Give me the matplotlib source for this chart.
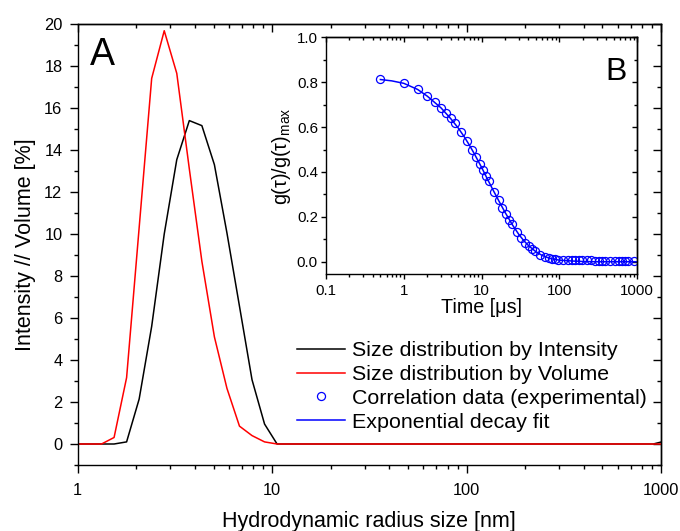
import matplotlib
matplotlib.use('Agg')
import matplotlib.pyplot as plt
import matplotlib.ticker as mt
import numpy as np

plt.rcParams['font.family'] = ['Liberation Sans', 'DejaVu Sans']
plt.rcParams['mathtext.default'] = 'regular'

# size distributions (hydrodynamic radius in nm, percent)
radius = [0.9, 1.326, 1.538, 1.784, 2.070, 2.401, 2.786, 3.232, 3.750, 4.351,
          5.047, 5.855, 6.792, 7.880, 9.141, 10.60, 913.0, 1059.0]
intensity = [0, 0, 0, 0.1, 2.14, 5.6, 10.0, 13.54, 15.40, 15.16,
             13.3, 10.05, 6.56, 3.06, 0.95, 0, 0, 0.15]
volume = [0, 0, 0.31, 3.16, 10.3, 17.41, 19.68, 17.65, 13.1, 8.7,
          5.1, 2.65, 0.85, 0.40, 0.1, 0, 0, 0]

# correlation function (time in us)
t_data = [0.5, 1, 1.5, 2, 2.5, 3, 3.5, 4, 4.5, 5.5, 6.5, 7.5, 8.5, 9.5, 10.5,
          11.5, 12.5, 14.5, 16.5, 18.5, 20.5, 22.5, 24.5, 28.5, 32.5, 36.5,
          40.5, 44.5, 48.5, 56.5, 64.5, 72.5, 80.5, 88.5, 96.5, 112.5, 128.5,
          144.5, 160.5, 176.5, 192.5, 224.5, 256.5, 288.5, 320.5, 352.5,
          384.5, 448.5, 512.5, 576.5, 640.5, 704.5, 768.5, 896.5]
g_data = [0.814, 0.798, 0.768, 0.738, 0.712, 0.687, 0.662, 0.640, 0.620,
          0.578, 0.539, 0.500, 0.467, 0.437, 0.408, 0.382, 0.358, 0.312,
          0.274, 0.240, 0.214, 0.188, 0.166, 0.133, 0.104, 0.084, 0.068,
          0.055, 0.046, 0.032, 0.023, 0.017, 0.014, 0.012, 0.010, 0.009,
          0.008, 0.008, 0.007, 0.007, 0.006, 0.006, 0.006, 0.005, 0.005,
          0.005, 0.004, 0.004, 0.004, 0.004, 0.003, 0.003, 0.003, 0.003]
t_fit = [0.5, 0.7, 1, 1.5, 2, 3, 4, 5, 6, 7, 8, 10, 12, 14, 17, 20, 25, 30,
         35, 40, 50, 60, 70, 80, 100, 150, 200, 300, 500, 1000]
g_fit = [0.812, 0.806, 0.795, 0.768, 0.738, 0.686, 0.638, 0.596, 0.556,
         0.518, 0.483, 0.420, 0.365, 0.320, 0.265, 0.220, 0.163, 0.122,
         0.093, 0.072, 0.044, 0.028, 0.019, 0.013, 0.007, 0.003, 0.001,
         0.0, 0.0, 0.0]


def style_axes(ax, major, minor, lw=1.0):
    for s in ax.spines.values():
        s.set_linewidth(lw)
    ax.tick_params(which='both', direction='out', top=False, right=False, width=lw)
    ax.tick_params(which='major', length=major)
    ax.tick_params(which='minor', length=minor)
    # mirrored inner ticks on top / right
    sx = ax.secondary_xaxis('top', functions=(lambda v: v, lambda v: v))
    sy = ax.secondary_yaxis('right', functions=(lambda v: v, lambda v: v))
    for s in (sx, sy):
        s.tick_params(which='both', direction='in', width=lw, labeltop=False, labelright=False)
        s.tick_params(which='major', length=major)
        s.tick_params(which='minor', length=minor)
        for sp in s.spines.values():
            sp.set_linewidth(lw)
    return sx, sy


fig = plt.figure(figsize=(6.8, 5.31), dpi=100)
ax = fig.add_axes([0.1143, 0.1243, 0.8577, 0.8305])

l1, = ax.plot(radius, intensity, color='black', lw=1.1,
              label='Size distribution by Intensity')
l2, = ax.plot(radius, volume, color='red', lw=1.1,
              label='Size distribution by Volume')
ax.set_xscale('log')
ax.set_xlim(1, 1000)
ax.set_ylim(-1, 20)
ax.set_xticks([1, 10, 100, 1000])
ax.set_xticklabels(['1', '10', '100', '1000'])
ax.set_yticks(np.arange(0, 21, 2))
ax.yaxis.set_minor_locator(mt.MultipleLocator(1))
sx, sy = style_axes(ax, 6, 3.2)
sy.yaxis.set_minor_locator(mt.MultipleLocator(1))
sy.set_yticks(np.arange(0, 21, 2))
ax.tick_params(labelsize=11.8, pad=5)
ax.tick_params(axis='x', pad=7)
ax.set_xlabel('Hydrodynamic radius size [nm]', fontsize=15.5, labelpad=9)
ax.set_ylabel('Intensity // Volume [%]', fontsize=15.5, labelpad=6)
ax.text(0.021, 0.907, 'A', transform=ax.transAxes, fontsize=27,
        va='baseline', ha='left')

# inset
ins = fig.add_axes([0.4794, 0.4834, 0.4578, 0.4463])
l3, = ins.plot(t_data, g_data, 'o', mfc='none', mec='#0000ff', ms=5.8, mew=0.9,
               label='Correlation data (experimental)')
l4, = ins.plot(t_fit, g_fit, color='#0000ff', lw=1.1, label='Exponential decay fit')
ins.set_xscale('log')
ins.set_xlim(0.1, 1000)
ins.set_ylim(-0.056, 1.0)
ins.set_xticks([0.1, 1, 10, 100, 1000])
ins.set_xticklabels(['0.1', '1', '10', '100', '1000'])
ins.set_yticks(np.arange(0, 1.01, 0.2))
ins.yaxis.set_major_formatter(mt.FormatStrFormatter('%.1f'))
ins.yaxis.set_minor_locator(mt.MultipleLocator(0.1))
sx2, sy2 = style_axes(ins, 3.8, 2.4)
sy2.set_yticks(np.arange(0, 1.01, 0.2))
sy2.yaxis.set_minor_locator(mt.MultipleLocator(0.1))
ins.tick_params(labelsize=10.8, pad=2)
ins.tick_params(axis='x', pad=3.5)
ins.set_xlabel('Time [\u03bcs]', fontsize=14.2, labelpad=0)
ins.set_ylabel('g(\u03c4)/g(\u03c4)$_{max}$', fontsize=14.2, labelpad=3)
ins.text(0.967, 0.82, 'B', transform=ins.transAxes, fontsize=23,
         va='baseline', ha='right')

ax.legend(handles=[l1, l2, l3, l4], loc='upper left', bbox_to_anchor=(0.376, 0.281),
          frameon=False, fontsize=15.4, borderpad=0, borderaxespad=0,
          handlelength=2.24, handletextpad=0.33, labelspacing=0.23)

fig.savefig('out.png', dpi=100)
